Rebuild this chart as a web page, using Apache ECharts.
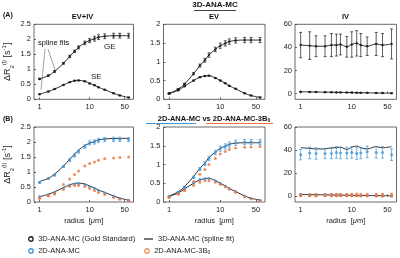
<!DOCTYPE html>
<html><head><meta charset="utf-8">
<script src="https://cdn.jsdelivr.net/npm/echarts@6/dist/echarts.min.js"></script>
<style>html,body{margin:0;padding:0;background:#fff}#c{width:400px;height:258px}</style>
</head><body><div id="c"></div>
<script>
// ---- data ----
const radius = [1, 1.5, 2, 3, 4, 5, 6, 8, 10, 12.5, 15, 20, 30, 40, 60];
const xTicks = [1, 10, 50];
const yTicksSmall = [0, 0.5, 1, 1.5, 2, 2.5];
const yTicksIV = [0, 20, 40, 60];

// (A) 3D-ANA-MC (gold standard)
const ge3D_EVIV = [0.68, 0.79, 0.93, 1.2, 1.43, 1.6, 1.73, 1.88, 1.96, 2.02, 2.07, 2.1, 2.12, 2.12, 2.12];
const ge3D_EVIV_err = [0.02, 0.02, 0.03, 0.03, 0.04, 0.04, 0.05, 0.06, 0.07, 0.08, 0.08, 0.08, 0.08, 0.08, 0.08];
const se3D_EVIV = [0.17, 0.26, 0.34, 0.48, 0.57, 0.62, 0.63, 0.6, 0.53, 0.47, 0.4, 0.32, 0.2, 0.13, 0.06];
const se3D_EVIV_err = [0.01, 0.01, 0.01, 0.01, 0.01, 0.01, 0.01, 0.01, 0.01, 0.01, 0.01, 0.01, 0.01, 0.01, 0.01];
const ge3D_EV = [0.16, 0.27, 0.41, 0.68, 0.9, 1.04, 1.18, 1.33, 1.43, 1.49, 1.54, 1.57, 1.58, 1.58, 1.58];
const ge3D_EV_err = [0.01, 0.02, 0.02, 0.03, 0.04, 0.05, 0.06, 0.06, 0.07, 0.07, 0.07, 0.07, 0.07, 0.07, 0.07];
const se3D_EV = [0.15, 0.24, 0.35, 0.5, 0.59, 0.62, 0.63, 0.57, 0.5, 0.43, 0.36, 0.28, 0.16, 0.1, 0.05];
const se3D_EV_err = [0.01, 0.01, 0.01, 0.01, 0.01, 0.01, 0.01, 0.01, 0.01, 0.01, 0.01, 0.01, 0.01, 0.01, 0.01];
const ge3D_IV = [42, 41.5, 41, 41, 42, 42, 42.5, 40.5, 42.5, 43.5, 42, 41, 43, 42, 43];
const ge3D_IV_err = [11, 12, 9, 9, 10, 9.5, 9, 9, 11, 11, 10, 8, 10, 10, 13];
const se3D_IV = [1.5, 1.4, 1.3, 1.2, 1.1, 1.0, 1.0, 0.9, 0.8, 0.7, 0.6, 0.6, 0.5, 0.4, 0.3];
const se3D_IV_err = [0.2, 0.2, 0.2, 0.2, 0.2, 0.2, 0.2, 0.2, 0.2, 0.2, 0.2, 0.2, 0.2, 0.2, 0.2];

// (B) 2D-ANA-MC (blue) and 2D-ANA-MC-3B0 (orange)
const ge2D_EVIV = [0.65, 0.78, 0.9, 1.18, 1.4, 1.55, 1.68, 1.85, 1.97, 2.0, 2.05, 2.08, 2.09, 2.09, 2.08];
const ge2D_EVIV_err = [0.02, 0.02, 0.03, 0.03, 0.04, 0.05, 0.05, 0.06, 0.07, 0.07, 0.07, 0.07, 0.07, 0.07, 0.07];
const se2D_EVIV = [0.18, 0.24, 0.32, 0.47, 0.57, 0.6, 0.61, 0.58, 0.52, 0.45, 0.38, 0.3, 0.2, 0.12, 0.06];
const ge3B_EVIV = [0.14, 0.22, 0.3, 0.58, 0.77, 0.92, 1.03, 1.2, 1.28, 1.33, 1.39, 1.44, 1.47, 1.48, 1.5];
const se3B_EVIV = [0.12, 0.2, 0.27, 0.42, 0.52, 0.55, 0.55, 0.52, 0.45, 0.38, 0.32, 0.25, 0.15, 0.09, 0.05];
const ge2D_EV = [0.15, 0.26, 0.4, 0.66, 0.88, 1.02, 1.16, 1.32, 1.42, 1.48, 1.53, 1.58, 1.6, 1.6, 1.6];
const ge2D_EV_err = [0.01, 0.02, 0.02, 0.03, 0.04, 0.05, 0.06, 0.06, 0.07, 0.07, 0.07, 0.07, 0.07, 0.07, 0.07];
const se2D_EV = [0.15, 0.25, 0.36, 0.51, 0.6, 0.63, 0.63, 0.57, 0.5, 0.43, 0.36, 0.28, 0.16, 0.1, 0.05];
const ge3B_EV = [0.13, 0.22, 0.33, 0.55, 0.74, 0.87, 1.0, 1.16, 1.28, 1.35, 1.4, 1.44, 1.46, 1.47, 1.48];
const se3B_EV = [0.13, 0.21, 0.3, 0.44, 0.53, 0.57, 0.57, 0.53, 0.47, 0.41, 0.34, 0.26, 0.15, 0.09, 0.04];
const ge2D_IV = [36, 37.5, 37, 37, 37, 38, 37.5, 37.5, 38, 37, 37.5, 38.5, 38, 38, 36];
const ge2D_IV_err = [4.5, 5, 5, 4.5, 4.5, 5, 5, 5, 5, 5, 5, 5, 5, 5, 5];
const se2D_IV = [1.4, 1.3, 1.3, 1.2, 1.1, 1.0, 1.0, 0.9, 0.8, 0.7, 0.6, 0.6, 0.5, 0.4, 0.3];
const ge3B_IV = [1.0, 0.9, 1.0, 1.0, 1.1, 1.0, 1.1, 1.0, 1.1, 1.2, 1.0, 1.1, 1.0, 1.1, 1.2];
const ge3B_IV_err = [1.3, 1.3, 1.3, 1.3, 1.3, 1.3, 1.3, 1.3, 1.4, 1.4, 1.4, 1.4, 1.4, 1.4, 1.4];
const se3B_IV = [0.6, 0.6, 0.5, 0.5, 0.5, 0.5, 0.4, 0.4, 0.4, 0.4, 0.3, 0.3, 0.3, 0.2, 0.2];

// ---- styling ----
const FONT = 'Liberation Sans, Arial, sans-serif';
const BLACK = '#1a1a1a', BLUE = '#3f95d8', ORANGE = '#ea7440';
const N_GOLD = '3D-ANA-MC (Gold Standard)', N_FIT = '3D-ANA-MC (spline fit)';
const N_2D = '2D-ANA-MC', N_3B = '2D-ANA-MC-3B0';

const colLeft = [32, 163.5, 295], gw = 101.5, rowTop = [24.3, 127], gh = 75;
const yRanges = [[0, 2.5], [0, 2], [-5, 60]];

const grids = [], xAxes = [], yAxes = [], series = [];
for (let r = 0; r < 2; r++) for (let c = 0; c < 3; c++) {
  const i = r * 3 + c;
  grids.push({left: colLeft[c], top: rowTop[r], width: gw, height: gh, show: true, borderColor: '#444', borderWidth: 0.8, backgroundColor: 'transparent'});
  xAxes.push({type: 'log', logBase: 10, gridIndex: i, min: 0.775, max: 75,
    axisLine: {show: false}, splitLine: {show: false}, minorTick: {show: false},
    axisTick: {inside: true, length: 2, lineStyle: {color: '#444', width: 0.8}, customValues: xTicks},
    axisLabel: {fontSize: 7.5, color: '#222', fontFamily: FONT, margin: 4, customValues: xTicks, formatter: v => String(v)},
    name: r === 1 ? 'radius  [{i|μ}m]' : '', nameLocation: 'middle', nameGap: 15,
    nameTextStyle: {fontSize: 7.5, color: '#222', fontFamily: FONT, rich: {i: {fontStyle: 'italic', fontSize: 7.5, fontFamily: FONT, color: '#222'}}}
  });
  const yr = yRanges[c];
  const yTicks = c === 2 ? yTicksIV : yTicksSmall.filter(v => v <= yr[1]);
  yAxes.push({type: 'value', gridIndex: i, min: yr[0], max: yr[1],
    axisLine: {show: false}, splitLine: {show: false},
    axisTick: {inside: true, length: 2, lineStyle: {color: '#444', width: 0.8}, customValues: yTicks},
    axisLabel: {fontSize: 7.5, color: '#222', fontFamily: FONT, margin: 3, customValues: yTicks},
    name: c === 0 ? '{t|ΔR}{sb|2}{sp|(l)}{t| [s}{sp|-1}{t|]}' : '', nameLocation: 'middle', nameRotate: 90, nameGap: 19,
    nameTextStyle: {fontFamily: FONT, color: '#222', rich: {
      t: {fontSize: 9, fontFamily: FONT, color: '#222', lineHeight: 14, verticalAlign: 'middle'},
      sb: {fontSize: 6, fontFamily: FONT, color: '#222', lineHeight: 14, verticalAlign: 'bottom', padding: [5, 0, 0, 0]},
      sp: {fontSize: 6, fontFamily: FONT, color: '#222', lineHeight: 14, verticalAlign: 'top', padding: [0, 0, 6, 0]}
    }}
  });
}

function pts(vals) { return radius.map((x, k) => [x, vals[k]]); }
function errs(vals, e) { return radius.map((x, k) => [x, vals[k] - e[k], vals[k] + e[k]]); }

function errSeries(name, i, vals, e, color) {
  series.push({name: name, type: 'custom', xAxisIndex: i, yAxisIndex: i, data: errs(vals, e), z: 3, silent: true,
    itemStyle: {color: color},
    encode: {x: 0, y: [1, 2]},
    renderItem: function (params, api) {
      const x = api.value(0);
      const a = api.coord([x, api.value(1)]), b = api.coord([x, api.value(2)]);
      const st = {stroke: color, lineWidth: 0.7, fill: null};
      return {type: 'group', children: [
        {type: 'line', shape: {x1: a[0], y1: a[1], x2: b[0], y2: b[1]}, style: st},
        {type: 'line', shape: {x1: a[0] - 1.5, y1: a[1], x2: a[0] + 1.5, y2: a[1]}, style: st},
        {type: 'line', shape: {x1: b[0] - 1.5, y1: b[1], x2: b[0] + 1.5, y2: b[1]}, style: st}
      ]};
    }});
}
function fitLine(i, vals) {
  series.push({name: N_FIT, type: 'line', xAxisIndex: i, yAxisIndex: i, data: pts(vals), smooth: 0.35,
    showSymbol: false, lineStyle: {color: BLACK, width: 0.9}, itemStyle: {color: BLACK}, z: 2, silent: true});
}
function marks(name, i, vals, color, size) {
  series.push({name: name, type: 'scatter', xAxisIndex: i, yAxisIndex: i, data: pts(vals), symbol: 'circle',
    symbolSize: size, itemStyle: {color: color}, z: 4, silent: true});
}

// Row A
const A = [[ge3D_EVIV, ge3D_EVIV_err, se3D_EVIV, se3D_EVIV_err], [ge3D_EV, ge3D_EV_err, se3D_EV, se3D_EV_err], [ge3D_IV, ge3D_IV_err, se3D_IV, se3D_IV_err]];
A.forEach((d, c) => {
  fitLine(c, d[0]); fitLine(c, d[2]);
  errSeries(N_GOLD, c, d[0], d[1], BLACK); errSeries(N_GOLD, c, d[2], d[3], BLACK);
  marks(N_GOLD, c, d[0], BLACK, 2.5); marks(N_GOLD, c, d[2], BLACK, 2.5);
});
// Row B
const fits = [[ge3D_EVIV, se3D_EVIV], [ge3D_EV, se3D_EV], [ge3D_IV, se3D_IV]];
const B = [
  {g2: ge2D_EVIV, g2e: ge2D_EVIV_err, s2: se2D_EVIV, g3: ge3B_EVIV, s3: se3B_EVIV, g3e: null},
  {g2: ge2D_EV, g2e: ge2D_EV_err, s2: se2D_EV, g3: ge3B_EV, s3: se3B_EV, g3e: null},
  {g2: ge2D_IV, g2e: ge2D_IV_err, s2: se2D_IV, g3: ge3B_IV, s3: se3B_IV, g3e: ge3B_IV_err}
];
B.forEach((d, c) => {
  const i = c + 3;
  fitLine(i, fits[c][0]); fitLine(i, fits[c][1]);
  errSeries(N_2D, i, d.g2, d.g2e, BLUE);
  marks(N_2D, i, d.g2, BLUE, 3); marks(N_2D, i, d.s2, BLUE, 3);
  if (d.g3e) errSeries(N_3B, i, d.g3, d.g3e, ORANGE);
  marks(N_3B, i, d.g3, ORANGE, 3); marks(N_3B, i, d.s3, ORANGE, 3);
});

const legTxt = {fontSize: 7.5, color: '#222', fontFamily: FONT, rich: {sb: {fontSize: 5, fontFamily: FONT, color: '#222', padding: [4, 0, 0, 0]}}};
function leg(name, left, top, icon, w, h, color, fmt) {
  return {left: left, top: top, orient: 'horizontal', itemWidth: w, itemHeight: h, itemGap: 4, padding: 0,
    selectedMode: false, textStyle: legTxt, formatter: fmt || (n => n),
    itemStyle: icon === 'circle' ? {color: '#ffffff', borderColor: color, borderWidth: 1.3} : {color: color},
    data: [{name: name, icon: icon}]};
}

const option = {
  animation: false,
  grid: grids, xAxis: xAxes, yAxis: yAxes, series: series,
  legend: [
    leg(N_GOLD, 28, 235, 'circle', 4.5, 4.5, BLACK),
    leg(N_FIT, 144, 235, 'rect', 9, 1.2, BLACK),
    leg(N_2D, 28, 247, 'circle', 4.5, 4.5, BLUE),
    leg(N_3B, 144, 247, 'circle', 4.5, 4.5, ORANGE, () => '2D-ANA-MC-3B{sb|0}')
  ],
  graphic: [
    {type: 'text', x: 215, y: 1, style: {text: '3D-ANA-MC', fontFamily: FONT, fontSize: 8, fontWeight: 'bold', fill: '#111', align: 'center'}},
    {type: 'line', shape: {x1: 194, y1: 10.5, x2: 236, y2: 10.5}, style: {stroke: '#111', lineWidth: 0.8}},
    {type: 'text', x: 82.5, y: 13, style: {text: 'EV+IV', fontFamily: FONT, fontSize: 7.5, fontWeight: 'bold', fill: '#111', align: 'center'}},
    {type: 'text', x: 214, y: 13, style: {text: 'EV', fontFamily: FONT, fontSize: 7.5, fontWeight: 'bold', fill: '#111', align: 'center'}},
    {type: 'text', x: 345.5, y: 13, style: {text: 'IV', fontFamily: FONT, fontSize: 7.5, fontWeight: 'bold', fill: '#111', align: 'center'}},
    {type: 'text', x: 3, y: 12, style: {text: '(A)', fontFamily: FONT, fontSize: 7, fontWeight: 'bold', fill: '#111'}},
    {type: 'text', x: 3, y: 116, style: {text: '(B)', fontFamily: FONT, fontSize: 7, fontWeight: 'bold', fill: '#111'}},
    {type: 'text', x: 38, y: 39, style: {text: 'spline fits', fontFamily: FONT, fontSize: 7.5, fill: '#111'}},
    {type: 'line', shape: {x1: 45, y1: 49, x2: 41, y2: 90}, style: {stroke: '#666', lineWidth: 0.6}},
    {type: 'line', shape: {x1: 48, y1: 49, x2: 55, y2: 70}, style: {stroke: '#666', lineWidth: 0.6}},
    {type: 'text', x: 104, y: 43, style: {text: 'GE', fontFamily: FONT, fontSize: 8, fill: '#111'}},
    {type: 'text', x: 91, y: 73, style: {text: 'SE', fontFamily: FONT, fontSize: 8, fill: '#111'}},
    {type: 'text', x: 214, y: 114, style: {
      text: '{b|2D-ANA-MC}{n| vs }{b|2D-ANA-MC-3B}{s|0}', align: 'center',
      rich: {b: {fontFamily: FONT, fontSize: 7.5, fontWeight: 'bold', fill: '#111'},
             n: {fontFamily: FONT, fontSize: 7.5, fontWeight: 'bold', fill: '#111'},
             s: {fontFamily: FONT, fontSize: 5, fontWeight: 'bold', fill: '#111', padding: [4, 0, 0, 0]}}}},
    {type: 'line', shape: {x1: 146, y1: 123.5, x2: 196, y2: 123.5}, style: {stroke: BLUE, lineWidth: 1.2}},
    {type: 'line', shape: {x1: 206, y1: 123.5, x2: 273, y2: 123.5}, style: {stroke: ORANGE, lineWidth: 1.2}}
  ]
};
const chart = echarts.init(document.getElementById('c'), null, {renderer: 'canvas'});
chart.setOption(option);
</script></body></html>
